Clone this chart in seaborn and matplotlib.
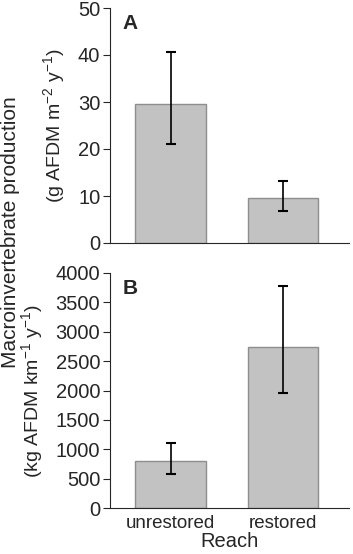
import matplotlib
matplotlib.use("Agg")
import matplotlib.pyplot as plt
import numpy as np
import pandas as pd
import seaborn as sns

reach = ["unrestored", "restored"]
# panel A: g AFDM m-2 y-1
prod_a = [29.6, 9.6]
lo_a = [21.1, 6.8]
hi_a = [40.7, 13.2]
# panel B: kg AFDM km-1 y-1
prod_b = [808, 2744]
lo_b = [582, 1953]
hi_b = [1109, 3780]

sns.set_style("ticks")
plt.rcParams["font.family"] = ["Liberation Sans", "DejaVu Sans"]
plt.rcParams["mathtext.fontset"] = "custom"
plt.rcParams["mathtext.rm"] = "Liberation Sans"
plt.rcParams["font.size"] = 10

fig = plt.figure(figsize=(3.53, 5.54), dpi=100)
ax_a = fig.add_axes([110/353, 1-243/554, 239/353, 235/554])
ax_b = fig.add_axes([110/353, 1-508/554, 239/353, 235/554])

panels = [(ax_a, prod_a, lo_a, hi_a, 50, 10, "A", "(g AFDM m$^{\\mathregular{-2}}$ y$^{\\mathregular{-1}}$)"),
          (ax_b, prod_b, lo_b, hi_b, 4000, 500, "B", "(kg AFDM km$^{\\mathregular{-1}}$ y$^{\\mathregular{-1}}$)")]

for ax, vals, lo, hi, top, step, tag, unit in panels:
    df = pd.DataFrame({"Reach": reach, "prod": vals})
    sns.barplot(data=df, x="Reach", y="prod", color="#c2c2c2", edgecolor="#8e8e8e",
                linewidth=1, width=0.63, errorbar=None, saturation=1, ax=ax)
    v = np.array(vals)
    yerr = [v - np.array(lo), np.array(hi) - v]
    ax.errorbar(range(len(vals)), v, yerr=yerr, fmt="none", ecolor="black",
                elinewidth=1.2, capsize=3.6, capthick=1.5)
    ax.set_ylim(0, top)
    ax.set_xlim(-0.538, 1.587)
    ax.set_yticks(np.arange(0, top + 1, step))
    ax.tick_params(axis="y", labelsize=14.5, length=5, width=0.8, direction="out", pad=2)
    ax.tick_params(axis="x", length=0, labelsize=13.5, pad=5)
    for s in ["top", "right"]:
        ax.spines[s].set_visible(False)
    ax.spines["left"].set_linewidth(0.8)
    ax.spines["bottom"].set_linewidth(0.8)
    ax.text(0.054, 0.975, tag, transform=ax.transAxes, fontsize=15,
            fontweight="bold", va="top", ha="left")
    ax.set_ylabel(unit, fontsize=14, labelpad=7)
    ax.set_xlabel("")

ax_a.set_xticklabels([])
ax_b.set_xlabel("Reach", fontsize=14.5, labelpad=0)
fig.text(11/353, 1-232/554, "Macroinvertebrate production", rotation=90,
         fontsize=15, ha="center", va="center")

fig.savefig("out.png", dpi=100)
